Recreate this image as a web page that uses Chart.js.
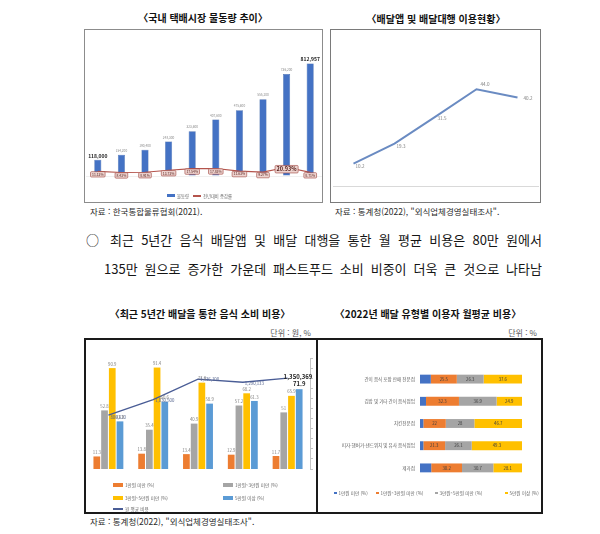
<!DOCTYPE html>
<html lang="ko">
<head>
<meta charset="utf-8">
<script src="https://cdn.jsdelivr.net/npm/chart.js@4.4.1/dist/chart.umd.min.js"></script>
<style>
  body { margin: 0; background: #fff; font-family: "Noto Sans CJK KR", sans-serif; }
  #page { position: relative; width: 600px; height: 534px; overflow: hidden; background: #fff; }
  .t { position: absolute; white-space: nowrap; line-height: 1; color: #1e1e1e; }
  .title { font-weight: bold; font-size: 10px; transform: translateX(-50%); color: #111; }
  .src { font-size: 8.5px; color: #2a2a2a; }
  .unit { font-size: 8px; color: #555; transform: translateX(-100%); }
  .body { font-size: 13px; text-align: justify; text-align-last: justify; color: #151515; }
  .frame { position: absolute; box-sizing: border-box; }
  canvas { position: absolute; }
  .lg { position: absolute; white-space: nowrap; line-height: 1; color: #666; }
  .lg i { position: absolute; display: block; }
</style>
</head>
<body>
<div id="page">
  <div class="t title" style="left:203px;top:13px">〈국내 택배시장 물동량 추이〉</div>
  <div class="t title" style="left:436px;top:14px">〈배달앱 및 배달대행 이용현황〉</div>
  <div class="frame" style="left:84px;top:29px;width:239px;height:174px;border:1px solid #8c8c8c"></div>
  <div class="frame" style="left:330px;top:29px;width:211px;height:174px;border:1.3px solid #7a7a7a"></div>
  <canvas id="c1" width="237" height="172" style="left:85px;top:30px"></canvas>
  <canvas id="c2" width="209" height="172" style="left:331px;top:30px"></canvas>
  <div class="t src" style="left:90px;top:207px">자료 : 한국통합물류협회(2021).</div>
  <div class="t src" style="left:335px;top:207px">자료 : 통계청(2022), "외식업체경영실태조사".</div>

  <div class="t body" style="left:86px;top:233px;width:456px">○ 최근 5년간 음식 배달앱 및 배달 대행을 통한 월 평균 비용은 80만 원에서</div>
  <div class="t body" style="left:104px;top:262px;width:438px">135만 원으로 증가한 가운데 패스트푸드 소비 비중이 더욱 큰 것으로 나타남</div>

  <div class="t title" style="left:200px;top:309px">〈최근 5년간 배달을 통한 음식 소비 비용〉</div>
  <div class="t title" style="left:428px;top:309px">〈2022년 배달 유형별 이용자 월평균 비용〉</div>
  <div class="t unit" style="left:311px;top:329px">단위 : 원, %</div>
  <div class="t unit" style="left:537px;top:329px">단위 : %</div>
  <div class="frame" style="left:84px;top:338px;width:459px;height:176px;border:2px solid #1a1a1a"></div>
  <div class="frame" style="left:316px;top:338px;width:2px;height:176px;background:#1a1a1a"></div>
  <canvas id="c3" width="230" height="172" style="left:86px;top:340px"></canvas>
  <canvas id="c4" width="223" height="172" style="left:318px;top:340px"></canvas>
  <div class="t src" style="left:90px;top:517px">자료 : 통계청(2022), "외식업체경영실태조사".</div>
</div>

<script>
// ---- 데이터 ----
const parcelYears = ['2011년', '2012년', '2013년', '2014년', '2015년', '2016년', '2017년', '2018년', '2019년', '2020년'];
const parcelVolume = [118000, 154200, 190400, 248300, 323600, 407600, 475600, 555200, 736200, 812957];
const parcelGrowth = [11.12, 8.43, 8.91, 13.72, 17.54, 17.83, 11.63, 9.27, 20.93, 8.71];

const usageYears = ['2018', '2019', '2020', '2021', '2022'];
const usageRate = [10.2, 19.3, 31.5, 44.0, 40.2];

const spendYears = ['2018', '2019', '2020', '2021', '2022'];
const spendUnder1 = [11.3, 13.8, 13.4, 12.9, 11.7];
const spend1to3 = [52.8, 35.4, 40.9, 57.2, 51];
const spend3to5 = [90.9, 91.4, 77.8, 68.2, 65.9];
const spendOver5 = [42.9, 60.6, 58.9, 61.3, 71.9];
const spendMonthly = [800620, 1030500, 1336100, 1290133, 1350369];

const storeTypes = ['간이 음식 포장 판매 전문점', '김밥 및 기타 간이 음식점업', '치킨전문점', '피자·햄버거·샌드위치 및 유사 음식점업', '제과점'];
const shareUnder1 = [10.6, 5.9, 3.3, 3.3, 11.0];
const share1to3 = [25.5, 32.3, 22.0, 21.3, 30.2];
const share3to5 = [26.3, 36.9, 28.0, 26.1, 30.7];
const shareOver5 = [37.6, 24.9, 46.7, 49.3, 28.1];

const F = "'Noto Sans CJK KR', sans-serif";
Chart.defaults.font.family = F;
Chart.defaults.animation = false;
Chart.defaults.plugins.legend.display = false;
Chart.defaults.plugins.tooltip.enabled = false;

// 값 라벨 (datalabels 플러그인 대신 직접 그림)
const valueLabels = {
    id: 'valueLabels',
    afterDatasetsDraw(chart) {
        const ctx = chart.ctx;
        chart.data.datasets.forEach((ds, di) => {
            const cfg = ds.valueLabel;
            if (!cfg) return;
            const meta = chart.getDatasetMeta(di);
            const pick = (v, i) => typeof v === 'function' ? v(i) : (Array.isArray(v) ? v[i] : v);
            meta.data.forEach((el, i) => {
                const text = cfg.format(ds.data[i], i);
                if (text === null) return;
                let x = el.x, y = el.y;
                if (cfg.center) { const c = el.getCenterPoint(); x = c.x; y = c.y; }
                x += pick(cfg.dx, i) || 0;
                y += pick(cfg.dy, i) || 0;
                ctx.save();
                ctx.font = pick(cfg.font, i);
                ctx.textAlign = pick(cfg.align, i) || 'center';
                ctx.textBaseline = 'middle';
                if (cfg.box) {
                    const w = ctx.measureText(text).width + 3;
                    const h = parseFloat(/([\d.]+)px/.exec(ctx.font)[1]) + 2;
                    ctx.beginPath();
                    ctx.roundRect(x - w / 2, y - h / 2, w, h, 1);
                    ctx.fillStyle = cfg.box.fill;
                    ctx.fill();
                    ctx.lineWidth = 0.6;
                    ctx.strokeStyle = cfg.box.stroke;
                    ctx.stroke();
                }
                ctx.fillStyle = pick(cfg.color, i);
                ctx.fillText(text, x, y);
                ctx.restore();
            });
        });
    }
};
Chart.register(valueLabels);

// html 범례
function addLegend(items) {
    const page = document.getElementById('page');
    items.forEach(it => {
        const d = document.createElement('div');
        d.className = 'lg';
        d.style.left = it.x + 'px';
        d.style.top = (it.y - it.size / 2) + 'px';
        d.style.fontSize = it.size + 'px';
        d.style.paddingLeft = (it.w + 2) + 'px';
        d.textContent = it.text;
        const m = document.createElement('i');
        m.style.left = '0px';
        m.style.top = (it.size / 2 - it.h / 2) + 'px';
        m.style.width = it.w + 'px';
        m.style.height = it.h + 'px';
        m.style.background = it.color;
        d.appendChild(m);
        page.appendChild(d);
    });
}

// ---- 1. 국내 택배시장 물동량 추이 ----
const c1 = new Chart(document.getElementById('c1'), {
    type: 'bar',
    data: {
        labels: parcelYears,
        datasets: [
            {
                type: 'line', label: '전년대비 증감률', data: parcelGrowth, yAxisID: 'y1', order: 0,
                borderColor: '#b4544c', backgroundColor: '#b4544c', borderWidth: 1.1, pointRadius: 0,
                valueLabel: {
                    format: v => v.toFixed(2) + '%',
                    dy: i => i === 8 ? 2 : 3,
                    font: i => i === 8 ? `bold 5.5px ${F}` : `3.4px ${F}`,
                    color: '#5a2420',
                    box: { fill: '#edd3cf', stroke: '#9e433d' }
                }
            },
            {
                label: '물동량', data: parcelVolume, yAxisID: 'y', order: 1,
                backgroundColor: '#4472c4', borderColor: '#30589e', borderWidth: 0.5,
                categoryPercentage: 0.5, barPercentage: 0.6,
                valueLabel: {
                    format: v => v.toLocaleString('en-US'),
                    dy: -4,
                    font: i => (i === 0 || i === 9) ? `bold 5px ${F}` : `3.2px ${F}`,
                    color: i => (i === 0 || i === 9) ? '#222' : '#8a8a8a'
                }
            }
        ]
    },
    options: {
        responsive: false,
        layout: { padding: { left: 1, right: 0, top: 20, bottom: 14 } },
        scales: {
            x: {
                grid: { display: false }, border: { display: false },
                ticks: { font: { size: 3.6 }, color: '#888', padding: 5 },
                afterFit: s => { s.height = 12; }
            },
            y: {
                min: 0, max: 910000,
                ticks: { display: false, stepSize: 100000 },
                grid: { drawTicks: false, lineWidth: 0.8, color: c => (c.tick && c.tick.value % 100000 === 0) ? '#ececec' : 'rgba(0,0,0,0)' },
                border: { display: false },
                afterFit: s => { s.width = 0; }
            },
            y1: { display: false, min: 0, max: 300 }
        }
    }
});
addLegend([
    { x: 167, y: 196, w: 8, h: 3, size: 4.3, color: c1.data.datasets[1].backgroundColor, text: c1.data.datasets[1].label },
    { x: 193, y: 196, w: 8, h: 1.2, size: 4.3, color: c1.data.datasets[0].borderColor, text: c1.data.datasets[0].label }
]);

// ---- 2. 배달앱 및 배달대행 이용현황 ----
new Chart(document.getElementById('c2'), {
    type: 'line',
    data: {
        labels: usageYears,
        datasets: [{
            label: '이용률', data: usageRate,
            borderColor: '#6a8bc2', borderWidth: 2, pointRadius: 0,
            valueLabel: {
                format: v => v.toFixed(1),
                align: 'left',
                dx: [2, 2, 2, 4, 6], dy: [3, 3, 2, -5, 0.5],
                font: `4.6px ${F}`, color: '#7f7f7f'
            }
        }]
    },
    options: {
        responsive: false,
        layout: { padding: { left: 2, right: 2, top: 46, bottom: 4 } },
        scales: {
            x: {
                offset: true,
                grid: { display: false },
                border: { display: true, color: '#d9d9d9' },
                ticks: { font: { size: 4.2 }, color: '#8c8c8c', padding: 5 },
                afterFit: s => { s.height = 12; }
            },
            y: { display: false, min: 0, max: 50 }
        }
    }
});

// ---- 3. 최근 5년간 배달을 통한 음식 소비 비용 ----
const barLabel = (bold) => ({
    format: v => String(v),
    dy: i => (bold && i === 4) ? -5 : -4,
    font: i => (bold && i === 4) ? `bold 6px ${F}` : `4.3px ${F}`,
    color: i => (bold && i === 4) ? '#222' : '#808080'
});
const c3 = new Chart(document.getElementById('c3'), {
    type: 'bar',
    data: {
        labels: spendYears,
        datasets: [
            {
                type: 'line', label: '월 평균 비용', data: spendMonthly, yAxisID: 'y1', order: 0,
                borderColor: '#4a5d96', backgroundColor: '#4a5d96', borderWidth: 1.4, pointRadius: 0,
                valueLabel: {
                    format: v => v.toLocaleString('en-US'),
                    align: 'left',
                    dx: i => i === 4 ? -4 : 2, dy: [2, 1, 0, 1, -1],
                    font: i => i === 4 ? `bold 6px ${F}` : `4.3px ${F}`,
                    color: i => i === 4 ? '#222' : '#4f5f8a'
                }
            },
            { label: '1만원 미만 (%)', data: spendUnder1, backgroundColor: '#ed7d31', order: 1, valueLabel: barLabel(false) },
            { label: '1만원~3만원 미만 (%)', data: spend1to3, backgroundColor: '#a5a5a5', order: 1, valueLabel: barLabel(false) },
            { label: '3만원~5만원 미만 (%)', data: spend3to5, backgroundColor: '#ffc000', order: 1, valueLabel: barLabel(false) },
            { label: '5만원 이상 (%)', data: spendOver5, backgroundColor: '#5b9bd5', order: 1, valueLabel: barLabel(true) }
        ]
    },
    options: {
        responsive: false,
        datasets: { bar: { categoryPercentage: 0.69, barPercentage: 0.87 } },
        layout: { padding: { left: 0, right: 0, top: 18, bottom: 33 } },
        scales: {
            x: {
                grid: { display: false }, border: { display: false },
                ticks: { font: { size: 4.2 }, color: '#777', padding: 3 },
                afterFit: s => { s.height = 10; }
            },
            y: { display: false, min: 0, max: 100 },
            y1: {
                position: 'right', min: 0, max: 1650000,
                ticks: { display: false, stepSize: 150000 },
                grid: { drawOnChartArea: false, tickLength: 3, color: '#c4c4c4' },
                border: { display: true, color: '#c4c4c4' },
                afterFit: s => { s.width = 6; }
            }
        }
    }
});
const ds3 = c3.data.datasets;
addLegend([
    { x: 113, y: 485, w: 10, h: 3.5, size: 4.6, color: ds3[1].backgroundColor, text: ds3[1].label },
    { x: 223, y: 485, w: 10, h: 3.5, size: 4.6, color: ds3[2].backgroundColor, text: ds3[2].label },
    { x: 113, y: 498, w: 10, h: 3.5, size: 4.6, color: ds3[3].backgroundColor, text: ds3[3].label },
    { x: 223, y: 498, w: 10, h: 3.5, size: 4.6, color: ds3[4].backgroundColor, text: ds3[4].label },
    { x: 113, y: 509, w: 10, h: 1.3, size: 4.6, color: ds3[0].borderColor, text: ds3[0].label }
]);

// ---- 4. 2022년 배달 유형별 이용자 월평균 비용 ----
const segLabel = {
    center: true,
    format: v => String(v),
    font: `4.3px ${F}`, color: '#3c3c3c'
};
const c4 = new Chart(document.getElementById('c4'), {
    type: 'bar',
    data: {
        labels: storeTypes,
        datasets: [
            { label: '1만원 미만 (%)', data: shareUnder1, backgroundColor: '#4472c4' },
            { label: '1만원~3만원 미만 (%)', data: share1to3, backgroundColor: '#ed7d31', valueLabel: segLabel },
            { label: '3만원~5만원 미만 (%)', data: share3to5, backgroundColor: '#a5a5a5', valueLabel: segLabel },
            { label: '5만원 이상 (%)', data: shareOver5, backgroundColor: '#ffc000', valueLabel: segLabel }
        ]
    },
    options: {
        indexAxis: 'y',
        responsive: false,
        datasets: { bar: { categoryPercentage: 1, barPercentage: 0.4 } },
        layout: { padding: { left: 2, right: 19, top: 28, bottom: 33 } },
        scales: {
            x: { stacked: true, display: false, min: 0, max: 100 },
            y: {
                stacked: true,
                grid: { display: false, drawTicks: false }, border: { display: false },
                ticks: { font: { size: 4.6 }, color: '#5f5f5f', padding: 5 },
                afterFit: s => { s.width = 100; }
            }
        }
    }
});
const ds4 = c4.data.datasets;
addLegend([
    { x: 334, y: 493, w: 2.5, h: 2.5, size: 4.6, color: ds4[0].backgroundColor, text: ds4[0].label },
    { x: 376, y: 493, w: 2.5, h: 2.5, size: 4.6, color: ds4[1].backgroundColor, text: ds4[1].label },
    { x: 435, y: 493, w: 2.5, h: 2.5, size: 4.6, color: ds4[2].backgroundColor, text: ds4[2].label },
    { x: 505, y: 493, w: 2.5, h: 2.5, size: 4.6, color: ds4[3].backgroundColor, text: ds4[3].label }
]);
</script>
</body>
</html>
